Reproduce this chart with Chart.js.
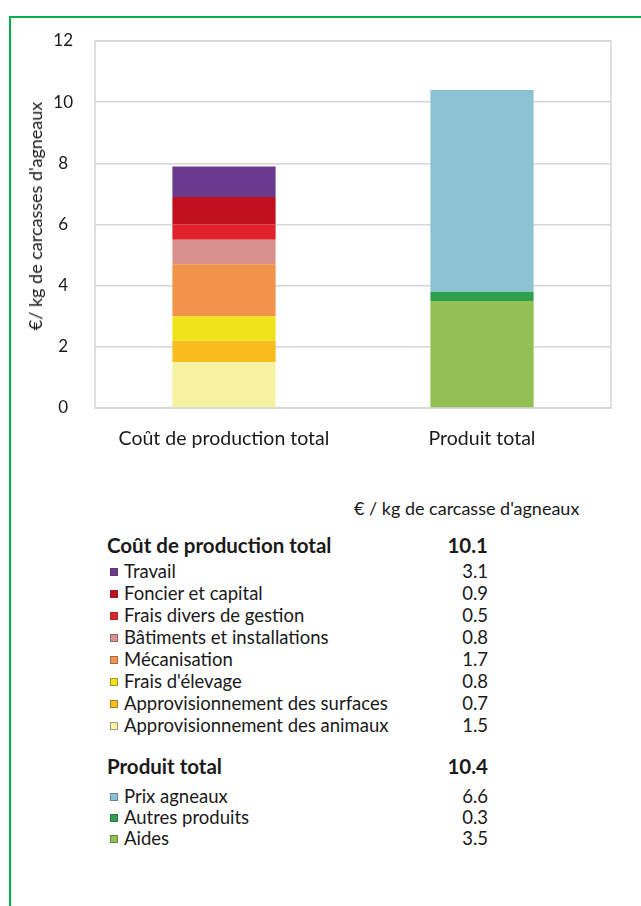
<!DOCTYPE html>
<html>
<head>
<meta charset="utf-8">
<script src="https://cdn.jsdelivr.net/npm/chart.js@4/dist/chart.umd.min.js"></script>
<style>
  html, body { margin: 0; padding: 0; background: #fff; }
  body { width: 641px; height: 906px; position: relative; overflow: hidden; font-family: Lato, "DejaVu Sans", sans-serif; color: #1a1a1a; }
  #frame { position: absolute; left: 9px; top: 16px; width: 700px; height: 1000px; border-left: 2px solid #00b050; border-top: 2px solid #00b050; box-sizing: border-box; }
  #chartBox { position: absolute; left: 0; top: 0; width: 641px; height: 460px; }
  #ytitle { position: absolute; left: 35px; top: 216px; font-size: 18px; line-height: 22px; white-space: nowrap; transform: translate(-50%, -50%) rotate(-90deg); }
  .t { position: absolute; white-space: nowrap; line-height: 22px; height: 22px; }
  .lab { font-size: 18.5px; }
  .hdr { font-size: 18px; }
  .val { font-size: 18.5px; text-align: right; width: 70px; }
  .bold { font-weight: bold; font-size: 20.5px; }
  .mk { position: absolute; width: 8px; height: 8px; box-sizing: border-box; border: 1px solid rgba(60,60,60,0.45); }
</style>
</head>
<body>
<div id="frame"></div>
<div id="chartBox"><canvas id="c"></canvas></div>
<div id="ytitle"></div>
<div id="table"></div>
<script>
// ---- Data ----
const categories = ['Coût de production total', 'Produit total'];
const yTicks = [0, 2, 4, 6, 8, 10, 12];
const yTitle = "€/ kg de carcasses d'agneaux";

// Cost components (bottom to top as stacked in the bar)
const costLabels = ['Approvisionnement des animaux', 'Approvisionnement des surfaces', "Frais d'élevage", 'Mécanisation', 'Bâtiments  et installations', 'Frais divers de gestion', 'Foncier et capital', 'Travail'];
const costBarValues = [1.5, 0.7, 0.8, 1.7, 0.8, 0.5, 0.9, 1.0];
const costTableValues = ['1.5', '0.7', '0.8', '1.7', '0.8', '0.5', '0.9', '3.1'];
const costColors = ['#f6f1a3', '#f8bd1c', '#f0e31c', '#f0944a', '#d8918f', '#e0232a', '#c1111f', '#6b3a8e'];
const costTitle = 'Coût de production total';
const costTotal = '10.1';

// Product components (bottom to top)
const productLabels = ['Aides', 'Autres produits', 'Prix agneaux'];
const productBarValues = [3.5, 0.3, 6.6];
const productTableValues = ['3.5', '0.3', '6.6'];
const productColors = ['#93c052', '#2f9f4d', '#8cc2d4'];
const productTitle = 'Produit total';
const productTotal = '10.4';

const tableHeader = "€ / kg de carcasse d'agneaux";

// ---- Chart ----
const datasets = [];
costLabels.forEach((l, i) => datasets.push({ label: l, data: [costBarValues[i], null], backgroundColor: costColors[i] }));
productLabels.forEach((l, i) => datasets.push({ label: l, data: [null, productBarValues[i]], backgroundColor: productColors[i] }));

const frame = {
  id: 'frame',
  beforeDatasetsDraw(chart) {
    const a = chart.chartArea, ctx = chart.ctx;
    ctx.save();
    ctx.strokeStyle = '#d6d6d6';
    ctx.lineWidth = 1.5;
    ctx.strokeRect(a.left, a.top, a.right - a.left, a.bottom - a.top);
    ctx.restore();
  }
};

new Chart(document.getElementById('c'), {
  type: 'bar',
  data: { labels: categories, datasets },
  plugins: [frame],
  options: {
    responsive: true,
    maintainAspectRatio: false,
    animation: false,
    layout: { padding: { top: 41, right: 30, left: 0, bottom: 0 } },
    plugins: { legend: { display: false }, tooltip: { enabled: false } },
    datasets: { bar: { barPercentage: 0.4, categoryPercentage: 1.0, borderWidth: 0 } },
    scales: {
      x: {
        stacked: true,
        grid: { display: false },
        border: { display: false },
        ticks: { color: '#1a1a1a', font: { family: 'Lato', size: 19.5 }, padding: 11 },
        afterFit(s) { s.height = 52; }
      },
      y: {
        stacked: true,
        min: 0, max: 12,
        afterBuildTicks(s) { s.ticks = yTicks.map(v => ({ value: v })); },
        grid: { color: '#d6d6d6', lineWidth: 1.5, drawTicks: false },
        border: { display: false },
        ticks: { color: '#1a1a1a', font: { family: 'Lato', size: 17 }, padding: 22, crossAlign: 'center' },
        title: { display: false },
        afterFit(s) { s.width = 95; }
      }
    }
  }
});
document.getElementById('ytitle').textContent = yTitle;

// ---- Table (legend with values) ----
const tb = document.getElementById('table');
function addText(txt, cls, x, yc, alignRight) {
  const d = document.createElement('div');
  d.className = 't ' + cls;
  d.textContent = txt;
  d.style.top = (yc - 11) + 'px';
  if (alignRight) { d.style.left = (x - 70) + 'px'; } else { d.style.left = x + 'px'; }
  tb.appendChild(d);
}
function addMarker(color, yc) {
  const m = document.createElement('div');
  m.className = 'mk';
  m.style.left = '110px';
  m.style.top = (yc - 3) + 'px';
  m.style.background = color;
  tb.appendChild(m);
}
addText(tableHeader, 'hdr', 354, 508, false);
addText(costTitle, 'bold', 107, 545, false);
addText(costTotal, 'bold val', 488, 545, true);
const costRowsY = [571, 593, 615, 637, 659, 681, 703, 725];
for (let k = 0; k < costLabels.length; k++) {
  const i = costLabels.length - 1 - k;
  addMarker(costColors[i], costRowsY[k]);
  addText(costLabels[i], 'lab', 124, costRowsY[k], false);
  addText(costTableValues[i], 'val', 488, costRowsY[k], true);
}
addText(productTitle, 'bold', 107, 766, false);
addText(productTotal, 'bold val', 488, 766, true);
const prodRowsY = [796, 817, 838];
for (let k = 0; k < productLabels.length; k++) {
  const i = productLabels.length - 1 - k;
  addMarker(productColors[i], prodRowsY[k]);
  addText(productLabels[i], 'lab', 124, prodRowsY[k], false);
  addText(productTableValues[i], 'val', 488, prodRowsY[k], true);
}
</script>
</body>
</html>
